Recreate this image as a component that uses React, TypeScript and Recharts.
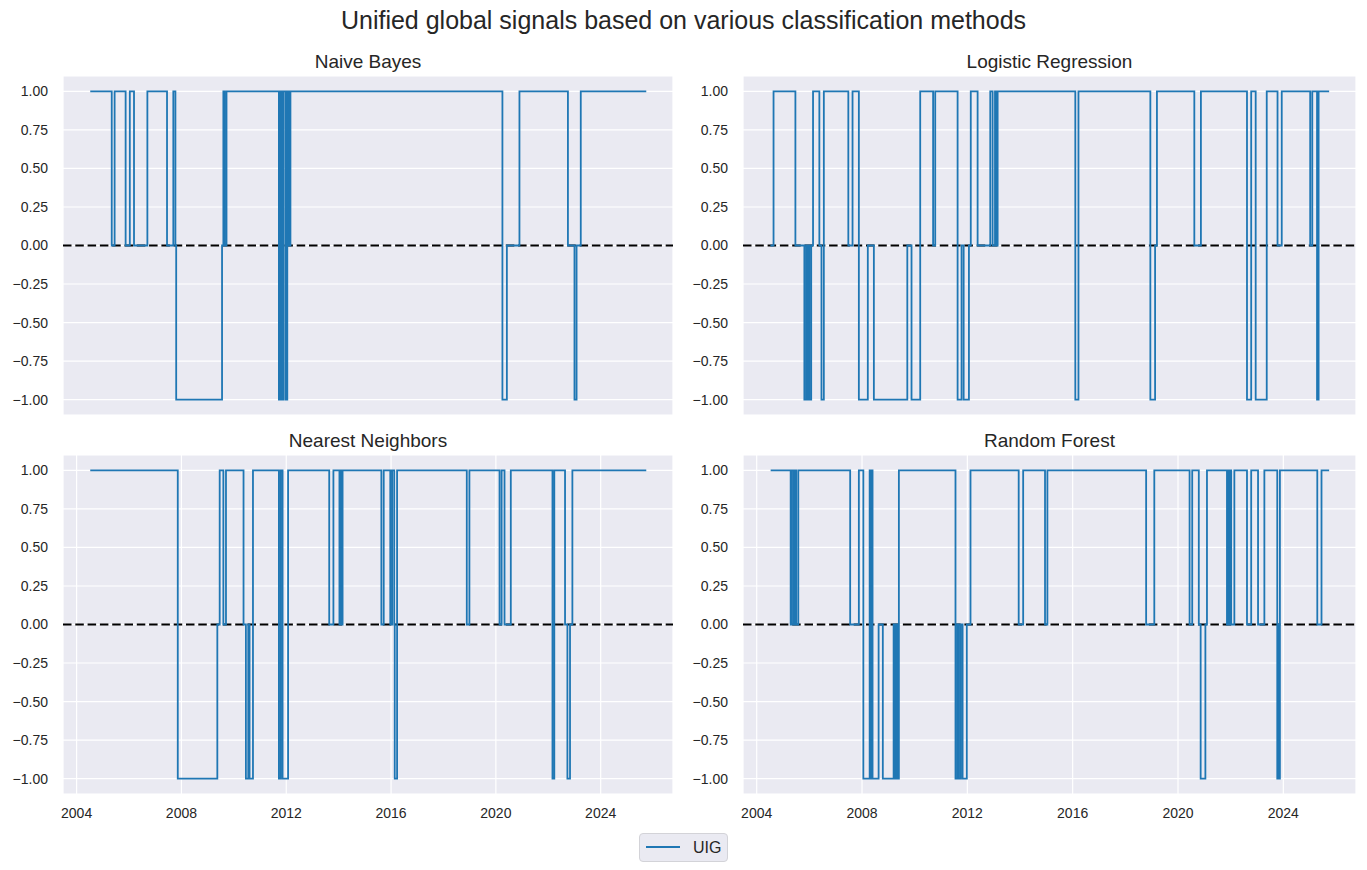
import React from 'react';
import { LineChart, Line, XAxis, YAxis, CartesianGrid, ReferenceLine } from 'recharts';

const FONT = '"Liberation Sans", Arial, Helvetica, sans-serif';

const chartTitle = 'Unified global signals based on various classification methods';
const panelTitles = ['Naive Bayes', 'Logistic Regression', 'Nearest Neighbors', 'Random Forest'];
const seriesName = 'UIG';

const xTicks = [2004, 2008, 2012, 2016, 2020, 2024];
const yTicks = [-1, -0.75, -0.5, -0.25, 0, 0.25, 0.5, 0.75, 1];
const endDate = 2025.74;

const naiveBayesDates = [2004.52, 2005.34, 2005.45, 2005.87, 2006.03, 2006.19, 2006.70, 2007.45, 2007.69, 2007.77, 2007.80, 2009.55, 2009.60, 2009.65, 2009.72, 2011.72, 2011.78, 2011.84, 2011.90, 2011.98, 2012.04, 2012.10, 2012.16, 2020.25, 2020.42, 2020.90, 2022.75, 2023.00, 2023.08, 2023.24];
const naiveBayesValues = [1, 0, 1, 0, 1, 0, 1, 0, 1, 0, -1, 0, 1, 0, 1, -1, 1, -1, 1, -1, 1, 0, 1, -1, 0, 1, 0, -1, 0, 1];

const logisticDates = [2004.52, 2004.64, 2005.47, 2005.81, 2005.88, 2005.92, 2005.96, 2006.00, 2006.07, 2006.14, 2006.38, 2006.46, 2006.55, 2007.48, 2007.64, 2007.88, 2008.22, 2008.45, 2009.72, 2009.88, 2010.21, 2010.70, 2010.78, 2011.63, 2011.78, 2011.86, 2012.06, 2012.13, 2012.39, 2012.87, 2012.96, 2013.05, 2013.10, 2013.15, 2016.10, 2016.22, 2018.95, 2019.13, 2019.20, 2020.62, 2020.87, 2022.62, 2022.78, 2022.95, 2023.37, 2023.78, 2023.94, 2025.02, 2025.10, 2025.28, 2025.34];
const logisticValues = [0, 1, 0, -1, 0, -1, 0, -1, 0, 1, 0, -1, 1, 0, 1, -1, 0, -1, 0, -1, 1, 0, 1, -1, 0, -1, 0, 1, 0, 1, 0, 1, 0, 1, -1, 1, -1, 0, 1, 0, 1, -1, 1, -1, 1, 0, 1, 0, 1, -1, 1];

const neighborsDates = [2004.52, 2007.86, 2009.37, 2009.46, 2009.60, 2009.70, 2010.37, 2010.46, 2010.55, 2010.60, 2010.73, 2011.72, 2011.79, 2011.86, 2012.07, 2013.64, 2013.80, 2014.03, 2014.07, 2014.10, 2014.15, 2015.63, 2015.72, 2015.97, 2016.04, 2016.12, 2016.14, 2016.23, 2018.89, 2018.99, 2020.14, 2020.22, 2020.33, 2020.57, 2022.16, 2022.23, 2022.64, 2022.73, 2022.83, 2022.92];
const neighborsValues = [1, -1, 0, 1, 0, 1, 0, -1, 0, -1, 1, -1, 1, -1, 1, 0, 1, 0, 1, 0, 1, 0, 1, 0, 1, 0, -1, 1, 0, 1, 0, 1, 0, 1, -1, 1, 0, -1, 0, 1];

const forestDates = [2004.53, 2005.29, 2005.33, 2005.40, 2005.45, 2005.50, 2005.58, 2007.55, 2007.88, 2008.05, 2008.29, 2008.33, 2008.36, 2008.40, 2008.63, 2008.79, 2009.20, 2009.26, 2009.31, 2009.35, 2009.40, 2011.55, 2011.62, 2011.68, 2011.75, 2011.82, 2011.98, 2012.12, 2013.95, 2014.12, 2014.95, 2015.04, 2018.79, 2019.10, 2020.44, 2020.54, 2020.79, 2020.86, 2021.04, 2021.10, 2021.86, 2021.90, 2021.94, 2021.98, 2022.02, 2022.14, 2022.62, 2022.78, 2023.04, 2023.28, 2023.77, 2023.82, 2023.84, 2023.87, 2025.29, 2025.45];
const forestValues = [1, 0, 1, 0, 1, 0, 1, 0, 1, -1, 1, -1, 1, -1, 0, -1, 0, -1, 0, -1, 1, -1, 0, -1, 0, -1, 0, 1, 0, 1, 0, 1, 0, 1, 0, 1, 0, -1, 0, 1, 0, 1, 0, 1, 0, 1, 0, 1, 0, 1, -1, 0, -1, 1, 0, 1];

function buildSteps(dates: number[], values: number[]) {
  const pts = dates.map((d, i) => ({ x: d, y: values[i] }));
  pts.push({ x: endDate, y: values[values.length - 1] });
  return pts;
}

const xDomain: [number, number] = [2003.48, 2026.76];
const yDomain: [number, number] = [-1.1, 1.1];
const AXIS_W = 63;

const fmtY = (v: number) => {
  const s = Math.abs(v).toFixed(2);
  return v < 0 ? '\u2212' + s : s;
};

type PanelProps = {
  title: string;
  data: { x: number; y: number }[];
  plotLeft: number;
  plotTop: number;
  plotW: number;
  plotH: number;
  showX: boolean;
};

function Panel({ title, data, plotLeft, plotTop, plotW, plotH, showX }: PanelProps) {
  const xH = showX ? 30 : 0;
  const tickStyle = { fontSize: 14, fill: '#262626', fontFamily: FONT };
  return (
    <>
      <div
        style={{
          position: 'absolute',
          left: plotLeft,
          width: plotW,
          top: plotTop - 25,
          height: 22,
          lineHeight: '22px',
          textAlign: 'center',
          fontSize: 19,
          fontFamily: FONT,
          color: '#262626',
        }}
      >
        {title}
      </div>
      <div style={{ position: 'absolute', left: plotLeft - AXIS_W, top: plotTop }}>
        <LineChart
          width={AXIS_W + plotW}
          height={plotH + xH}
          data={data}
          margin={{ top: 0, right: 0, bottom: 0, left: 0 }}
        >
          <CartesianGrid stroke="#ffffff" strokeWidth={1.2} fill="#EAEAF2" fillOpacity={1} />
          <XAxis
            type="number"
            dataKey="x"
            domain={xDomain}
            ticks={xTicks}
            allowDataOverflow
            axisLine={false}
            tickLine={false}
            tickSize={0}
            tickMargin={14}
            height={xH}
            tick={showX ? tickStyle : false}
          />
          <YAxis
            type="number"
            domain={yDomain}
            ticks={yTicks}
            allowDataOverflow
            width={AXIS_W}
            axisLine={false}
            tickLine={false}
            tickSize={0}
            tickMargin={15}
            tick={tickStyle}
            tickFormatter={fmtY}
          />
          <ReferenceLine y={0} stroke="#000000" strokeWidth={1.8} strokeDasharray="8.5 3.8" />
          <Line
            type="stepAfter"
            dataKey="y"
            name={seriesName}
            stroke="#1f77b4"
            strokeWidth={1.8}
            dot={false}
            activeDot={false}
            isAnimationActive={false}
          />
        </LineChart>
      </div>
    </>
  );
}

export default function App() {
  return (
    <div style={{ position: 'absolute', left: 0, top: 0, width: 1367, height: 870, background: '#ffffff', fontFamily: FONT }}>
      <div
        style={{
          position: 'absolute',
          left: 0,
          top: 5,
          width: 1367,
          lineHeight: '30px',
          textAlign: 'center',
          fontSize: 25,
          color: '#262626',
        }}
      >
        {chartTitle}
      </div>
      <Panel title={panelTitles[0]} data={buildSteps(naiveBayesDates, naiveBayesValues)} plotLeft={63} plotTop={76} plotW={610} plotH={339} showX={false} />
      <Panel title={panelTitles[1]} data={buildSteps(logisticDates, logisticValues)} plotLeft={743} plotTop={76} plotW={613} plotH={339} showX={false} />
      <Panel title={panelTitles[2]} data={buildSteps(neighborsDates, neighborsValues)} plotLeft={63} plotTop={455} plotW={610} plotH={339} showX={true} />
      <Panel title={panelTitles[3]} data={buildSteps(forestDates, forestValues)} plotLeft={743} plotTop={455} plotW={613} plotH={339} showX={true} />
      <div
        style={{
          position: 'absolute',
          left: 639,
          top: 833,
          width: 87,
          height: 27,
          border: '1px solid #d3d3d8',
          borderRadius: 4,
          background: '#EAEAF2',
          boxSizing: 'content-box',
        }}
      >
        <div style={{ position: 'absolute', left: 6, top: 12, width: 34, height: 2, background: '#1f77b4' }} />
        <div style={{ position: 'absolute', left: 53, top: 4, lineHeight: '20px', fontSize: 16, color: '#262626' }}>{seriesName}</div>
      </div>
    </div>
  );
}
